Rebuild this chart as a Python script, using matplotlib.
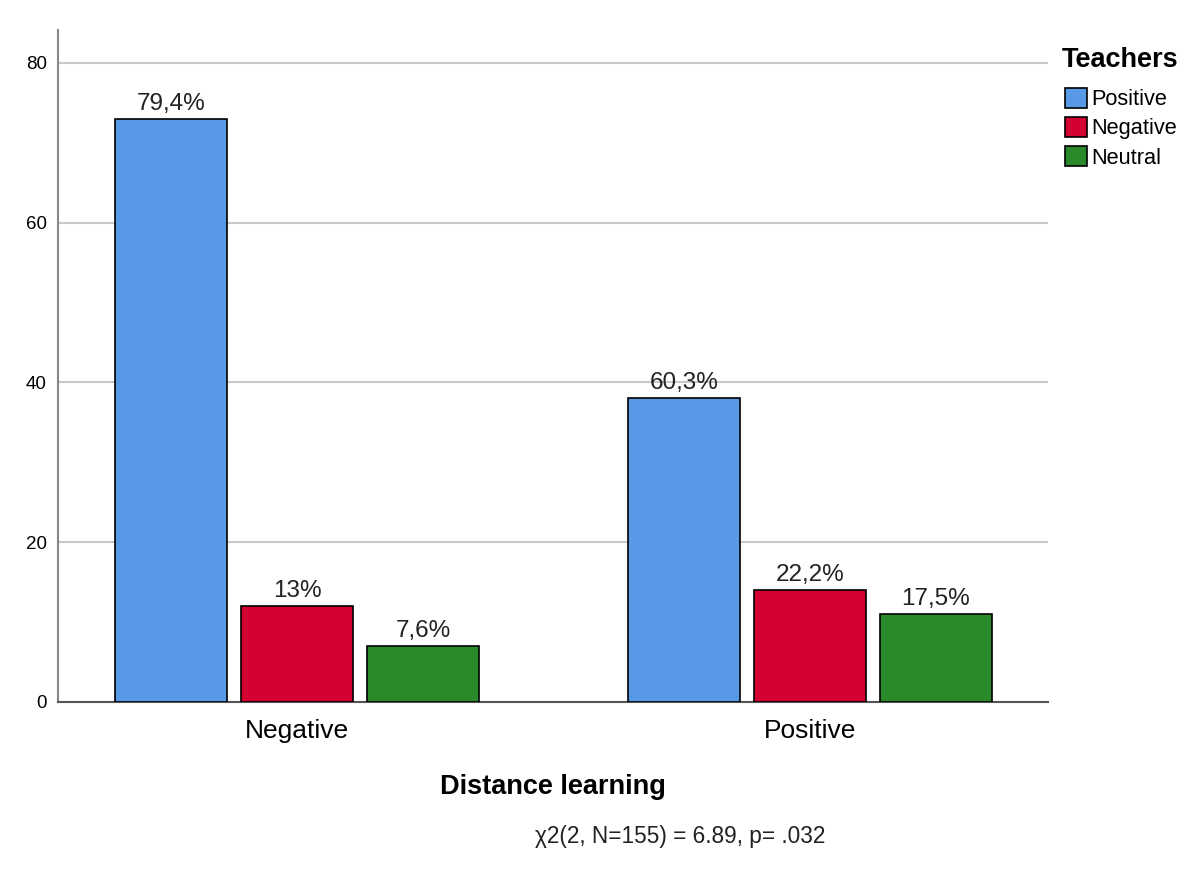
import numpy as np
import matplotlib.pyplot as plt

plt.rcParams['font.family'] = ['Liberation Sans', 'DejaVu Sans']

groups = ['Negative', 'Positive']
series = ['Positive', 'Negative', 'Neutral']
counts = {
    'Positive': [73, 38],
    'Negative': [12, 14],
    'Neutral': [7, 11],
}
pct_labels = {
    'Positive': ['79,4%', '60,3%'],
    'Negative': ['13%', '22,2%'],
    'Neutral': ['7,6%', '17,5%'],
}
colors = {'Positive': '#5799e6', 'Negative': '#d50032', 'Neutral': '#2a8a2a'}
yticks = [0, 20, 40, 60, 80]

fig = plt.figure(figsize=(12, 8.77), dpi=100)
ax = fig.add_axes([58 / 1200, 175 / 877, 990 / 1200, 672 / 877])

x = np.arange(len(groups))
width = 0.22
step = 0.2456
for i, s in enumerate(series):
    bars = ax.bar(x + (i - 1) * step, counts[s], width, color=colors[s],
                  edgecolor='black', linewidth=1.2, label=s, zorder=3)
    ax.bar_label(bars, labels=pct_labels[s], padding=3, fontsize=17.5, color='#222222')

ax.set_xlim(-0.466, 1.464)
ax.set_ylim(0, 84.1)
ax.set_yticks(yticks)
ax.set_xticks(x)
ax.set_xticklabels(groups, fontsize=19)
ax.tick_params(axis='y', length=0, labelsize=13.5, pad=8)
ax.tick_params(axis='x', length=0, pad=12.5)
ax.yaxis.grid(True, color='#c8c8c8', linewidth=1.5, zorder=0)
ax.set_axisbelow(True)
for sp in ['top', 'right']:
    ax.spines[sp].set_visible(False)
ax.spines['left'].set_color('#888888')
ax.spines['left'].set_linewidth(1.5)
ax.spines['bottom'].set_color('#555555')
ax.spines['bottom'].set_linewidth(1.5)

ax.set_xlabel('Distance learning', fontsize=19.5, fontweight='bold', labelpad=22)

# legend title drawn separately to get the wider gap seen in the original
fig.text(1062 / 1200, 1 - 60 / 877, 'Teachers', fontsize=19.5, fontweight='bold',
         ha='left', va='center')
leg = ax.legend(loc='upper left', bbox_to_anchor=(1065 / 1200, 1 - 88 / 877),
                bbox_transform=fig.transFigure, frameon=False, fontsize=15.7,
                handlelength=1.0, handleheight=1.0, handletextpad=0.2,
                labelspacing=0.32, borderpad=0, borderaxespad=0)

fig.text(680 / 1200, 1 - 836 / 877, 'χ2(2, N=155) = 6.89, p= .032',
         fontsize=16.3, ha='center', va='center', color='#222222')

fig.savefig('out.png', dpi=100)
